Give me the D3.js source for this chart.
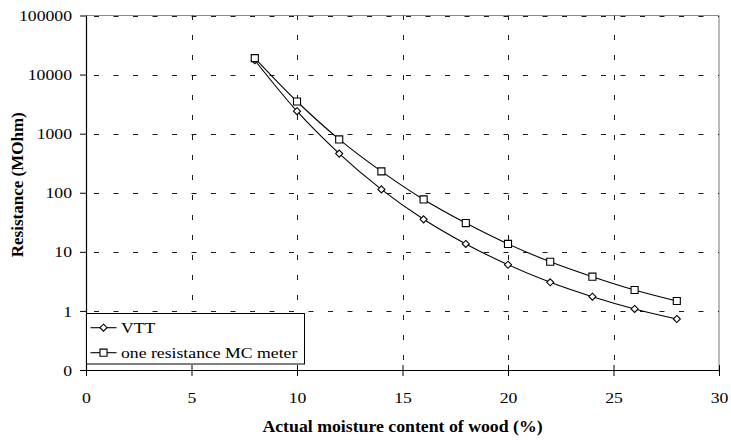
<!DOCTYPE html>
<html>
<head>
<meta charset="utf-8">
<script src="https://cdn.jsdelivr.net/npm/d3@7"></script>
<style>
  html, body { margin: 0; padding: 0; background: #fff; }
  svg { display: block; }
  svg text { font-family: "Liberation Serif", "Times New Roman", Times, "DejaVu Serif", serif !important; fill: #000; }
</style>
</head>
<body>
<svg id="chart" width="731" height="440"></svg>
<script>
// Moisture content of wood (%) at which resistance was measured
const moisture = [8, 10, 12, 14, 16, 18, 20, 22, 24, 26, 28];
// Resistance (MOhm) per series
const vttValues = [17500, 2400, 460, 114, 35.5, 13.6, 6.05, 3.05, 1.74, 1.08, 0.73];
const meterValues = [19000, 3500, 800, 230, 77, 30.7, 13.6, 6.8, 3.8, 2.26, 1.47];
const seriesNames = ["VTT", "one resistance MC meter"];

// Axis ticks
const xTickValues = [0, 5, 10, 15, 20, 25, 30];
const yTickValues = [0.1, 1, 10, 100, 1000, 10000, 100000];
const yTickLabels = ["0", "1", "10", "100", "1000", "10000", "100000"];

const svg = d3.select("#chart");
const plotLeft = 86, plotRight = 719, plotTop = 15.5, plotBottom = 370;
const textStretch = 1.18;

const x = d3.scaleLinear().domain([0, 30]).range([plotLeft, plotRight]);
const y = d3.scaleLog().domain([0.1, 100000]).range([plotBottom, plotTop]);

// Plot frame: light grey top and right borders
svg.append("line").attr("x1", plotLeft).attr("x2", plotRight).attr("y1", plotTop).attr("y2", plotTop)
  .attr("stroke", "#8c8c8c").attr("stroke-width", 1.2);
svg.append("line").attr("x1", plotRight).attr("x2", plotRight).attr("y1", plotTop).attr("y2", plotBottom)
  .attr("stroke", "#8c8c8c").attr("stroke-width", 1.2);

// Dashed gridlines
const grid = svg.append("g").attr("stroke", "#1a1a1a").attr("stroke-width", 1);
grid.selectAll("line.h").data(yTickValues.slice(1)).join("line").attr("class", "h")
  .attr("x1", plotLeft).attr("x2", plotRight)
  .attr("y1", d => Math.round(y(d)) + 0.5).attr("y2", d => Math.round(y(d)) + 0.5)
  .attr("stroke-dasharray", "5,14.5").attr("stroke-dashoffset", -8);
grid.selectAll("line.v").data(xTickValues.slice(1, -1)).join("line").attr("class", "v")
  .attr("x1", d => Math.round(x(d)) + 0.5).attr("x2", d => Math.round(x(d)) + 0.5)
  .attr("y1", plotBottom).attr("y2", plotTop)
  .attr("stroke-dasharray", "5,15").attr("stroke-dashoffset", -10);

// Series curves and markers
const line = d3.line()
  .x((d, i) => x(moisture[i]))
  .y(d => y(d))
  .curve(d3.curveCatmullRom.alpha(0));

const diamondType = {
  draw(ctx, size) {
    const r = Math.sqrt(size) / 2;
    ctx.moveTo(0, -r); ctx.lineTo(r, 0); ctx.lineTo(0, r); ctx.lineTo(-r, 0); ctx.closePath();
  }
};
const diamond = d3.symbol().type(diamondType).size(50);
const square = d3.symbol().type(d3.symbolSquare).size(50);

const series = [
  { name: seriesNames[0], values: vttValues, symbol: diamond },
  { name: seriesNames[1], values: meterValues, symbol: square }
];

series.forEach(s => {
  svg.append("path").attr("d", line(s.values))
    .attr("fill", "none").attr("stroke", "#000").attr("stroke-width", 1.1);
});
series.forEach(s => {
  svg.append("g").selectAll("path").data(s.values).join("path")
    .attr("transform", (d, i) => `translate(${x(moisture[i])},${y(d)})`)
    .attr("d", s.symbol())
    .attr("fill", "#fff").attr("stroke", "#000").attr("stroke-width", 1.1);
});

// Axes
const yAxis = svg.append("g").attr("transform", `translate(${plotLeft},0)`)
  .call(d3.axisLeft(y).tickValues(yTickValues)
    .tickFormat((d, i) => yTickLabels[i]).tickSize(6).tickSizeOuter(0));
yAxis.attr("font-family", null).attr("font-size", null);
yAxis.selectAll("text")
  .attr("x", 0).attr("dy", "0.34em")
  .attr("transform", `translate(-14,0) scale(${textStretch},1)`)
  .style("font-size", "15px");
yAxis.selectAll(".tick line").attr("x2", -6).attr("x1", 1);

const xAxis = svg.append("g").attr("transform", `translate(0,${plotBottom})`)
  .call(d3.axisBottom(x).tickValues(xTickValues).tickSize(6).tickSizeOuter(0));
xAxis.attr("font-family", null).attr("font-size", null);
xAxis.selectAll("text")
  .attr("y", 0).attr("dy", null)
  .attr("transform", `translate(0,32.5) scale(${textStretch},1)`)
  .style("font-size", "15px");
xAxis.selectAll(".tick line").attr("y1", -5).attr("y2", 6);
svg.selectAll(".domain").attr("stroke", "#000").attr("stroke-width", 1.2);

// Axis titles
svg.append("text")
  .attr("transform", `translate(${(plotLeft + plotRight) / 2},432) scale(1.11,1)`)
  .attr("text-anchor", "middle")
  .style("font-size", "16px").style("font-weight", "bold")
  .text("Actual moisture content of wood (%)");
svg.append("text")
  .attr("transform", `translate(23,${(plotTop + plotBottom) / 2 - 8}) rotate(-90)`)
  .attr("text-anchor", "middle")
  .style("font-size", "17px").style("font-weight", "bold")
  .text("Resistance (MOhm)");

// Legend
const legend = svg.append("g");
legend.append("rect").attr("x", 86.5).attr("y", 313.5).attr("width", 218).attr("height", 50.5)
  .attr("fill", "#fff").attr("stroke", "#000").attr("stroke-width", 1);
series.forEach((s, i) => {
  const ly = 327.7 + i * 25;
  legend.append("line").attr("x1", 90.5).attr("x2", 116.5).attr("y1", ly).attr("y2", ly)
    .attr("stroke", "#000").attr("stroke-width", 1.1);
  legend.append("path").attr("transform", `translate(103.5,${ly})`).attr("d", s.symbol())
    .attr("fill", "#fff").attr("stroke", "#000").attr("stroke-width", 1.1);
  legend.append("text")
    .attr("transform", `translate(121,${ly + 5}) scale(${textStretch},1)`)
    .style("font-size", "15px")
    .text(s.name);
});
</script>
</body>
</html>
